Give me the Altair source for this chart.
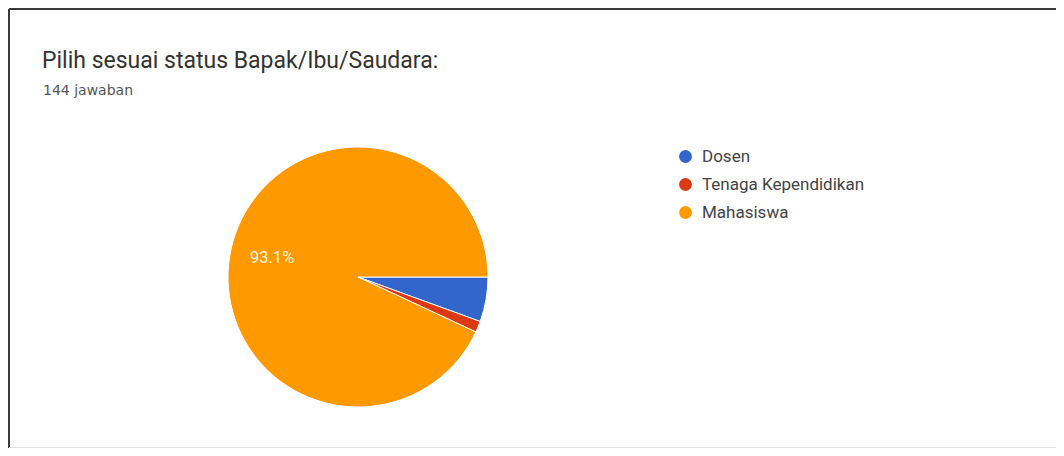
import altair as alt
import pandas as pd
import math

categories = ["Dosen", "Tenaga Kependidikan", "Mahasiswa"]
counts = [8, 2, 134]
colors = ["#3366cc", "#dc3912", "#ff9900"]
title_text = "Pilih sesuai status Bapak/Ibu/Saudara:"
subtitle_text = "144 jawaban"

total = sum(counts)
df = pd.DataFrame({
    "kategori": categories,
    "jumlah": counts,
    "urut": list(range(len(categories))),
})
df["label"] = [f"{c / total * 100:.1f}%" if c / total > 0.1 else "" for c in counts]

W, H = 1048, 440
CX, CY, R = 349, 268, 130

theta = alt.Theta("jumlah:Q", stack=True,
                  scale=alt.Scale(range=[math.pi / 2, math.pi / 2 + 2 * math.pi]))
color = alt.Color(
    "kategori:N",
    scale=alt.Scale(domain=categories, range=colors),
    sort=categories,
    legend=alt.Legend(
        title=None, orient="none", legendX=668, legendY=139,
        symbolType="circle", symbolSize=165, symbolStrokeWidth=0,
        labelFont="Roboto", labelFontSize=17, labelColor="#444",
        labelLimit=400,
        rowPadding=10, labelOffset=8, padding=0,
    ),
)

base = alt.Chart(df)

pie = base.mark_arc(stroke="white", strokeWidth=1).encode(
    theta=theta,
    color=color,
    order=alt.Order("urut:Q"),
    x=alt.value(CX), y=alt.value(CY), radius=alt.value(R),
)

labels = base.mark_text(font="Roboto", fontSize=16.5, color="#fff4dc").encode(
    theta=theta,
    order=alt.Order("urut:Q"),
    text="label:N",
    x=alt.value(CX), y=alt.value(CY), radius=alt.value(88),
)

tdf = pd.DataFrame({"t": [title_text]})
sdf = pd.DataFrame({"t": [subtitle_text]})
title = alt.Chart(tdf).mark_text(
    font="Roboto", fontSize=23, color="#333333", align="left", baseline="alphabetic"
).encode(text="t:N", x=alt.value(33), y=alt.value(59))
subtitle = alt.Chart(sdf).mark_text(
    font="DejaVu Sans", fontSize=14, color="#555555", align="left", baseline="alphabetic"
).encode(text="t:N", x=alt.value(34), y=alt.value(86))

left_border = alt.Chart(tdf).mark_rule(color="#3a3a3a", strokeWidth=2).encode(
    x=alt.value(0), y=alt.value(0), y2=alt.value(H)
)
top_border = alt.Chart(tdf).mark_rule(color="#3a3a3a", strokeWidth=2).encode(
    x=alt.value(0), x2=alt.value(W), y=alt.value(0)
)
bottom_border = alt.Chart(tdf).mark_rule(color="#e2e2e2", strokeWidth=2).encode(
    x=alt.value(0), x2=alt.value(W), y=alt.value(H - 1)
)

chart = alt.layer(pie, labels, title, subtitle, left_border, top_border, bottom_border).properties(
    width=W, height=H,
    autosize=alt.AutoSizeParams(type="fit", contains="padding"),
    padding=0,
).configure(
    background="white",
    view=alt.ViewConfig(stroke="transparent", strokeWidth=0),
)

chart.save("out.html", embed_options={"renderer": "svg", "actions": False})
